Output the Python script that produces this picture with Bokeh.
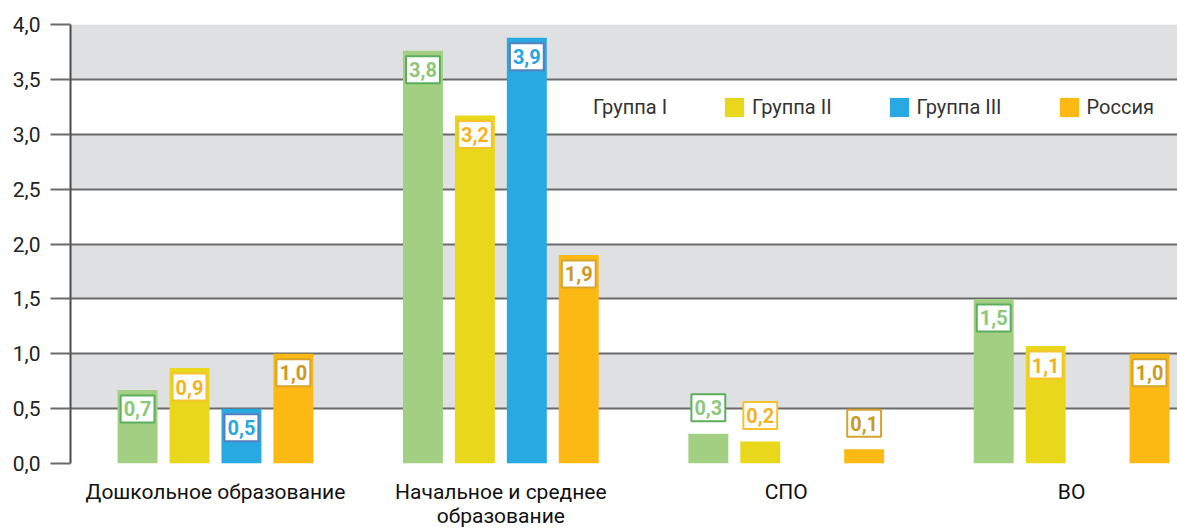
import numpy as np
from bokeh.plotting import figure
from bokeh.models import (ColumnDataSource, FixedTicker, CustomJSTickFormatter,
                          Legend, LegendItem, Range1d)
from bokeh.transform import dodge
from bokeh.core.properties import value
from bokeh.embed import file_html
from bokeh.resources import INLINE

# ---- data ----
categories = ["Дошкольное образование", "Начальное и среднее\nобразование", "СПО", "ВО"]
groups = ["Группа I", "Группа II", "Группа III", "Россия"]
group1 = [0.67, 3.76, 0.27, 1.50]
group2 = [0.87, 3.17, 0.20, 1.07]
group3 = [0.50, 3.88, None, None]
russia = [1.00, 1.90, 0.13, 1.00]
y_ticks = [0.0, 0.5, 1.0, 1.5, 2.0, 2.5, 3.0, 3.5, 4.0]

series = [group1, group2, group3, russia]
bar_colors = ["#A2CF82", "#E8D71B", "#29A9E1", "#FDB913"]
label_text_colors = ["#8DC77A", "#F6B21E", "#27A6DF", "#CB9A26"]
label_border_colors = ["#5AAE5C", "#F6C22E", "#587FC0", "#D6A42A"]
offsets = [-0.273, -0.091, 0.091, 0.273]
FONT = "Roboto"

p = figure(width=1177, height=530, output_backend="svg", toolbar_location=None,
           x_range=Range1d(-0.508, 3.371), y_range=Range1d(0, 4),
           min_border_left=70, min_border_right=0, min_border_top=24,
           min_border_bottom=67)
p.outline_line_color = None
p.background_fill_color = "white"
p.border_fill_color = "white"

# grid
p.xgrid.grid_line_color = None
p.ygrid.ticker = FixedTicker(ticks=y_ticks)
p.ygrid.grid_line_color = "#6b6b6b"
p.ygrid.grid_line_width = 2
p.ygrid.band_fill_color = "#DFE0E2"
p.ygrid.band_fill_alpha = 1.0

# y axis
p.yaxis.ticker = FixedTicker(ticks=y_ticks)
p.yaxis.formatter = CustomJSTickFormatter(code="return tick.toFixed(1).replace('.', ',');")
p.yaxis.axis_line_color = "#4a4a4a"
p.yaxis.axis_line_width = 2
p.yaxis.major_tick_out = 20
p.yaxis.major_tick_in = 0
p.yaxis.major_tick_line_color = "#6b6b6b"
p.yaxis.major_tick_line_width = 2
p.yaxis.minor_tick_line_color = None
p.yaxis.major_label_text_font = FONT
p.yaxis.major_label_text_font_size = "21px"
p.yaxis.major_label_text_color = "#222222"
p.yaxis.major_label_standoff = 10

# x axis
x_idx = list(range(len(categories)))
p.xaxis.ticker = FixedTicker(ticks=x_idx)
p.xaxis.formatter = CustomJSTickFormatter(args=dict(labels=categories),
                                          code="return labels[Math.round(tick)];")
p.xaxis.axis_line_color = None
p.xaxis.major_tick_line_color = None
p.xaxis.major_tick_out = 0
p.xaxis.major_tick_in = 0
p.xaxis.minor_tick_line_color = None
p.xaxis.minor_tick_out = 0
p.xaxis.major_label_text_font = FONT
p.xaxis.major_label_text_font_size = "21px"
p.xaxis.major_label_text_line_height = 1.0
p.xaxis.major_label_text_color = "#111111"
p.xaxis.major_label_standoff = 16

# bars
bar_renderers = []
for name, vals, col, off in zip(groups, series, bar_colors, offsets):
    arr = np.array([np.nan if v is None else v for v in vals], dtype=float)
    src = ColumnDataSource(dict(x=x_idx, top=arr))
    r = p.vbar(x=dodge("x", off, range=p.x_range), top="top", width=0.14,
               source=src, fill_color=col, line_color=None)
    bar_renderers.append(r)

# value labels
for vals, tcol, bcol, off in zip(series, label_text_colors, label_border_colors, offsets):
    xs, ys, txt, yo = [], [], [], []
    for i, v in enumerate(vals):
        if v is None:
            continue
        xs.append(i)
        ys.append(v)
        txt.append(f"{v:.1f}".replace(".", ","))
        yo.append(19 if v >= 0.4 else -26)
    src = ColumnDataSource(dict(x=xs, y=ys, text=txt, yo=yo))
    p.text(x=dodge("x", off, range=p.x_range), y="y", text="text", y_offset="yo",
           source=src, text_align="center", text_baseline="middle",
           text_font=value(FONT), text_font_style="bold", text_font_size="20px",
           text_color=tcol, background_fill_color="white",
           border_line_color=bcol, border_line_width=2, padding=(3, 6))

# legend (first entry has no visible swatch in the original)
dummy = p.vbar(x=[], top=[], width=0.1, fill_alpha=0, line_alpha=0)
items = [LegendItem(label=groups[0], renderers=[dummy])]
for g, r in zip(groups[1:], bar_renderers[1:]):
    items.append(LegendItem(label=g, renderers=[r]))
legend = Legend(items=items, orientation="horizontal", location=(493, 344),
                glyph_width=24, glyph_height=24, label_height=24, label_standoff=6,
                spacing=55, padding=0, margin=0, background_fill_alpha=0,
                border_line_color=None, label_text_font=FONT,
                label_text_font_size="20px", label_text_color="#333333")
p.add_layout(legend)

html = file_html(p, INLINE)
open("out.html", "w").write(html)
